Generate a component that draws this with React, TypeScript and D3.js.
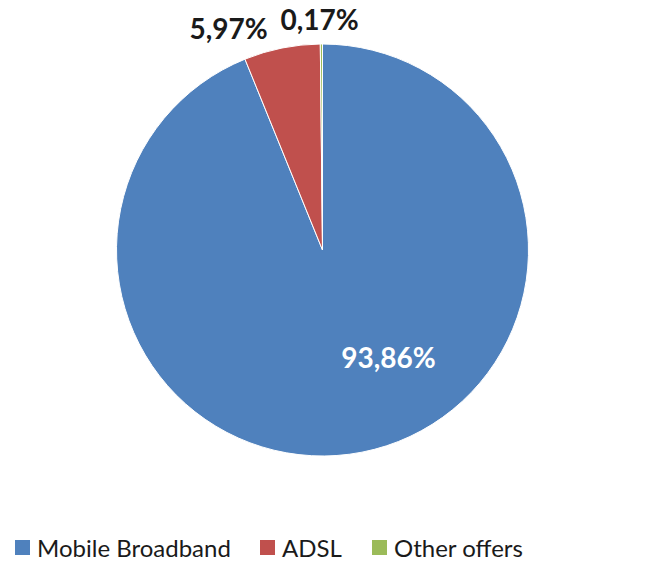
import * as d3 from "d3";

const categories = ["Mobile Broadband", "ADSL", "Other offers"];
const values = [93.86, 5.97, 0.17];
const valueLabels = ["93,86%", "5,97%", "0,17%"];
const colors = ["#4F81BD", "#C0504D", "#9BBB59"];

const W = 650;
const H = 561;
const cx = 322.5;
const cy = 250;
const R = 206;

// label anchors relative to the pie centre (Excel "best fit" placement)
const labelOffsets: [number, number][] = [
  [66, 118],
  [-94, -211],
  [-3, -220],
];

const legendX = [15, 260, 372];

export default function App() {
  const pie = d3
    .pie<number>()
    .sort(null)
    .value((d) => d);
  const arcs = pie(values);
  const arc = d3.arc<d3.PieArcDatum<number>>().innerRadius(0).outerRadius(R);

  return (
    <svg
      width={W}
      height={H}
      style={{ position: "absolute", left: 0, top: 0, background: "#fff" }}
      fontFamily="Lato, 'Open Sans', sans-serif"
    >
      <g transform={`translate(${cx},${cy})`}>
        {arcs.map((a, i) => (
          <path
            key={categories[i]}
            d={arc(a) || ""}
            fill={colors[i]}
            stroke="#fff"
            strokeWidth={1}
          />
        ))}
        {arcs.map((a, i) => (
          <text
            key={"l" + i}
            x={labelOffsets[i][0]}
            y={labelOffsets[i][1]}
            textAnchor="middle"
            fontSize={28}
            fontWeight="bold"
            fill={i === 0 ? "#fff" : "#1a1a1a"}
          >
            {valueLabels[i]}
          </text>
        ))}
      </g>
      <g>
        {categories.map((c, i) => (
          <g key={c} transform={`translate(${legendX[i]},540)`}>
            <rect width={15} height={15} fill={colors[i]} />
            <text x={22} y={17} fontSize={24} fill="#1a1a1a">
              {c}
            </text>
          </g>
        ))}
      </g>
    </svg>
  );
}
